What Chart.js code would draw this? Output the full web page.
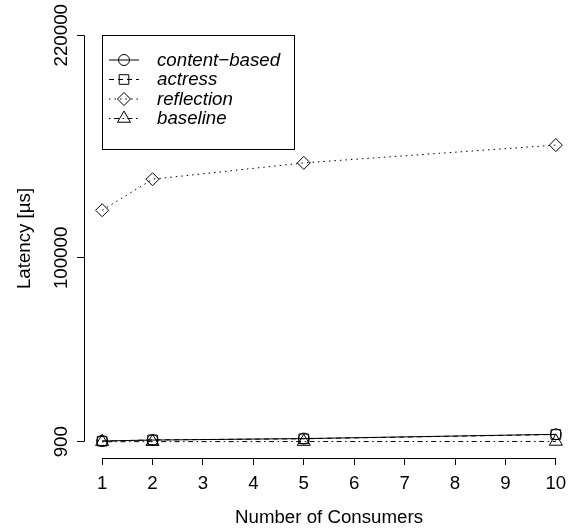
<!DOCTYPE html>
<html>
<head>
<meta charset="utf-8">
<script src="https://cdn.jsdelivr.net/npm/chart.js@4.4.1/dist/chart.umd.min.js"></script>
<style>
  html, body { margin: 0; padding: 0; background: #ffffff; }
  #wrap { width: 574px; height: 532px; }
</style>
</head>
<body>
<div id="wrap"><canvas id="c" width="574" height="532"></canvas></div>
<script>
// Latency measurements per number of consumers
const consumers = [1, 2, 5, 10];
const contentBased = [1300, 1800, 2600, 4900];
const actress = [1200, 1900, 2500, 4800];
const reflection = [125700, 142400, 151200, 160800];
const baseline = [900, 950, 1000, 1050];

const seriesNames = ['content\u2212based', 'actress', 'reflection', 'baseline'];
const xTicks = [1, 2, 3, 4, 5, 6, 7, 8, 9, 10];
const yTicks = [900, 100000, 220000];
const xTitle = 'Number of Consumers';
const yTitle = 'Latency [\u00b5s]';

const FONT = 'Liberation Sans, Arial, Helvetica, sans-serif';
const FS = 18.7;

function pts(ys) { return consumers.map((x, i) => ({ x: x, y: ys[i] })); }

const styles = [
  { dash: [], point: 'circle', r: 5.5 },
  { dash: [5, 4], point: 'rect', r: 6.8 },
  { dash: [1.5, 4], point: 'rectRot', r: 6.5 },
  { dash: [1.5, 3.5, 5, 3.5], point: 'triangle', r: 7.5 }
];
const values = [contentBased, actress, reflection, baseline];

const datasets = values.map((v, i) => ({
  label: seriesNames[i],
  data: pts(v),
  showLine: true,
  borderColor: '#000',
  borderWidth: 1,
  borderDash: styles[i].dash,
  pointStyle: styles[i].point,
  pointRadius: styles[i].r,
  pointBorderColor: '#000',
  pointBackgroundColor: 'rgba(0,0,0,0)',
  pointBorderWidth: 1,
  tension: 0,
  clip: false
}));

// Axis lines spanning first to last tick, tick labels, and the boxed legend
const extras = {
  id: 'extras',
  afterDraw(chart) {
    const ctx = chart.ctx;
    const xs = chart.scales.x, ys = chart.scales.y;
    const area = chart.chartArea;
    ctx.save();
    ctx.strokeStyle = '#000';
    ctx.lineWidth = 1;
    ctx.setLineDash([]);
    // x axis line
    const yb = Math.round(area.bottom) + 0.5;
    ctx.beginPath();
    ctx.moveTo(xs.getPixelForValue(xTicks[0]), yb);
    ctx.lineTo(xs.getPixelForValue(xTicks[xTicks.length - 1]), yb);
    ctx.stroke();
    // y axis line
    const xl = Math.round(area.left) + 0.5;
    ctx.beginPath();
    ctx.moveTo(xl, ys.getPixelForValue(yTicks[0]));
    ctx.lineTo(xl, ys.getPixelForValue(yTicks[yTicks.length - 1]));
    ctx.stroke();
    ctx.fillStyle = '#000';
    ctx.font = FS + 'px ' + FONT;
    // x tick labels
    ctx.textAlign = 'center';
    ctx.textBaseline = 'alphabetic';
    xTicks.forEach(v => {
      ctx.fillText(String(v), xs.getPixelForValue(v), 488.5);
    });
    // y tick labels, vertical
    yTicks.forEach(v => {
      ctx.save();
      ctx.translate(67, ys.getPixelForValue(v));
      ctx.rotate(-Math.PI / 2);
      ctx.fillText(String(v), 0, 0);
      ctx.restore();
    });
    // legend
    const bx = 102.5, by = 35.5, bw = 192, bh = 114;
    ctx.strokeRect(bx, by, bw, bh);
    const rowY = [59.5, 79, 98.5, 118];
    ctx.textAlign = 'left';
    ctx.textBaseline = 'middle';
    chart.data.datasets.forEach((ds, i) => {
      const y = rowY[i];
      ctx.setLineDash(ds.borderDash);
      ctx.beginPath();
      ctx.moveTo(109, y + 0.5);
      ctx.lineTo(139, y + 0.5);
      ctx.stroke();
      ctx.setLineDash([]);
      ctx.fillStyle = 'rgba(0,0,0,0)';
      Chart.helpers.drawPoint(ctx, {
        pointStyle: ds.pointStyle, radius: ds.pointRadius, rotation: 0, borderWidth: 1
      }, 124, y + 0.5);
      ctx.fillStyle = '#000';
      ctx.font = 'italic ' + FS + 'px ' + FONT;
      ctx.fillText(ds.label, 157, y + 1);
    });
    ctx.restore();
  }
};

new Chart(document.getElementById('c'), {
  type: 'line',
  data: { datasets: datasets },
  plugins: [extras],
  options: {
    responsive: false,
    devicePixelRatio: 1,
    animation: false,
    layout: { autoPadding: false, padding: { top: 19, right: 0, left: 0, bottom: 0 } },
    plugins: { legend: { display: false }, tooltip: { enabled: false } },
    scales: {
      x: {
        type: 'linear',
        min: 0.64,
        max: 10.36,
        afterBuildTicks: s => { s.ticks = xTicks.map(v => ({ value: v })); },
        afterFit: s => { s.height = 74; },
        border: { display: false },
        grid: { drawOnChartArea: false, drawTicks: true, tickLength: 7, color: '#000', lineWidth: 1 },
        ticks: { display: false },
        title: { display: true, text: xTitle, color: '#000', font: { family: FONT, size: FS }, padding: { top: 0, bottom: 3 } }
      },
      y: {
        type: 'linear',
        min: -7864,
        max: 228764,
        afterBuildTicks: s => { s.ticks = yTicks.map(v => ({ value: v })); },
        afterFit: s => { s.width = 84; },
        border: { display: false },
        grid: { drawOnChartArea: false, drawTicks: true, tickLength: 7, color: '#000', lineWidth: 1 },
        ticks: { display: false },
        title: { display: true, text: yTitle, color: '#000', font: { family: FONT, size: FS }, padding: { top: 14, bottom: 0 } }
      }
    }
  }
});
</script>
</body>
</html>
